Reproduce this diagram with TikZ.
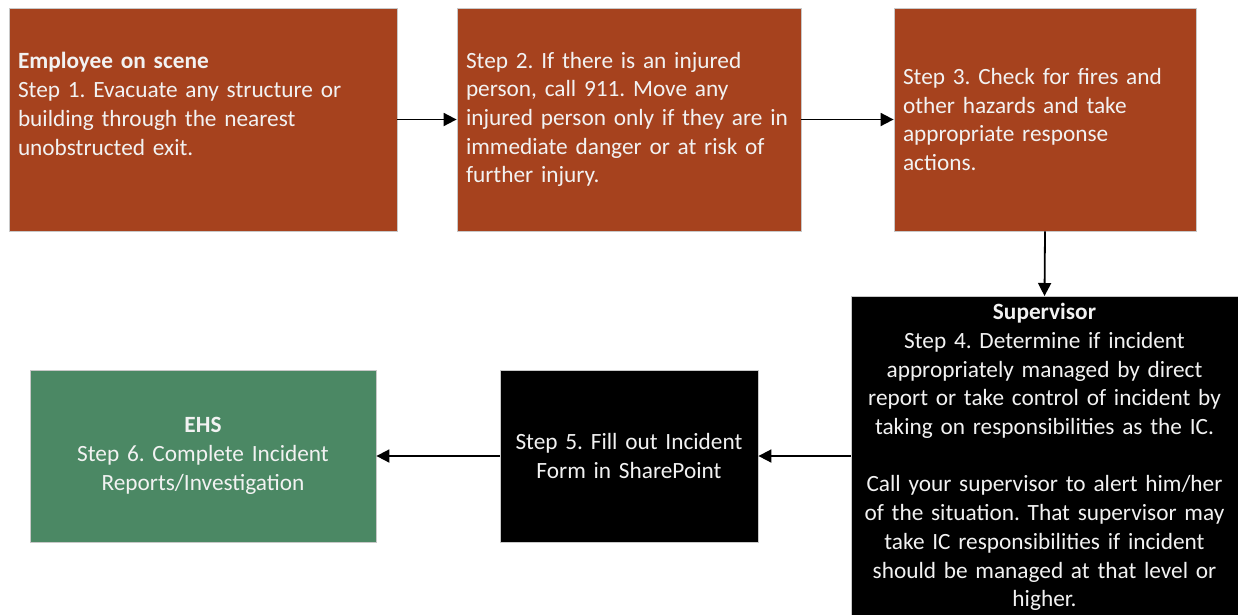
\documentclass[tikz,border=0pt]{standalone}
\usepackage{fontspec}
\setmainfont{Carlito}
\usetikzlibrary{arrows.meta}
\definecolor{rust}{RGB}{166,66,30}
\definecolor{ehsgreen}{RGB}{75,136,100}
\definecolor{boxline}{RGB}{200,200,200}
\definecolor{txt}{RGB}{242,242,242}
\begin{document}
\frenchspacing
\begin{tikzpicture}[x=1pt,y=-1pt,
  basebox/.style={draw=boxline, line width=0.8pt, text=txt, inner ysep=0pt,
    font=\fontsize{23.3}{28.7}\selectfont},
  leftbox/.style={basebox, fill=rust, align=left, inner xsep=9pt, minimum height=223pt},
  midbox/.style={basebox, align=center, inner xsep=0pt},
  arr/.style={line width=1.8pt, -{Triangle[length=13pt,width=13pt]}}]
\useasboundingbox (0,0) rectangle (1238,614);
\fill[white] (0,0) rectangle (1238,614);
\node[leftbox, text width=370pt, minimum width=388pt] (s1) at (203,119.5)
  {\textbf{Employee on scene}\\Step 1. Evacuate any structure or\\building through the nearest\\unobstructed exit.\\[-6pt]\strut};
\node[leftbox, text width=326pt, minimum width=344pt] (s2) at (629,119.5)
  {Step 2. If there is an injured\\person, call 911. Move any\\injured person only if they are in\\immediate danger or at risk of\\further injury.};
\node[leftbox, text width=284pt, minimum width=302pt] (s3) at (1045,119.5)
  {Step 3. Check for fires and\\other hazards and take\\appropriate response\\actions.};
\begin{scope}
\clip (0,0) rectangle (1238,614);
\node[midbox, fill=black, text width=387pt, minimum width=387pt, anchor=north, inner ysep=7pt] (s4) at (1044.5,296)
  {\textbf{Supervisor}\\Step 4. Determine if incident\\appropriately managed by direct\\report or take control of incident by\\taking on responsibilities as the IC.\\\strut\\Call your supervisor to alert him/her\\of the situation. That supervisor may\\take IC responsibilities if incident\\should be managed at that level or\\higher.\\\strut};
\end{scope}
\node[midbox, fill=black, text width=258pt, minimum width=258pt, minimum height=172pt] (s5) at (629,456)
  {Step 5. Fill out Incident\\Form in SharePoint};
\node[midbox, fill=ehsgreen, text width=346pt, minimum width=346pt, minimum height=172pt] (s6) at (203,456)
  {\textbf{EHS}\\Step 6. Complete Incident\\Reports/Investigation};
\draw[arr] (s1.east) -- (s2.west);
\draw[arr] (s2.east) -- (s3.west);
\draw[arr] (s3.south) -- (s4.north);
\draw[arr] (s4.west |- s5.east) -- (s5.east);
\draw[arr] (s5.west) -- (s6.east);
\end{tikzpicture}
\end{document}
